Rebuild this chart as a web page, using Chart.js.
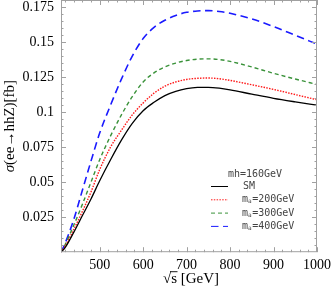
<!DOCTYPE html>
<html>
<head>
<meta charset="utf-8">
<script src="https://cdn.jsdelivr.net/npm/chart.js@4/dist/chart.umd.min.js"></script>
<style>
  html, body { margin: 0; padding: 0; background: #fff; }
  #wrap { width: 333px; height: 300px; }
</style>
</head>
<body>
<div id="wrap"><canvas id="xsChart"></canvas></div>
<script>
// sqrt(s) in GeV, cross sections in fb
const sqrtS = [411, 420, 440, 460, 480, 500, 525, 550, 575, 600, 625, 650, 675, 700, 725, 750, 775, 800, 850, 900, 950, 1000];
const sigmaSM = [0, 0.003, 0.014, 0.026, 0.038, 0.051, 0.066, 0.080, 0.092, 0.101, 0.107, 0.1118, 0.1148, 0.1167, 0.1176, 0.1177, 0.1171, 0.1159, 0.1128, 0.1098, 0.1073, 0.1050];
const sigma200 = [0, 0.004, 0.016, 0.029, 0.043, 0.059, 0.075, 0.087, 0.098, 0.1065, 0.1135, 0.1185, 0.1215, 0.1233, 0.1241, 0.1243, 0.1238, 0.1226, 0.1195, 0.1162, 0.1125, 0.1088];
const sigma300 = [0, 0.005, 0.019, 0.034, 0.050, 0.066, 0.083, 0.098, 0.111, 0.1215, 0.128, 0.1322, 0.1350, 0.1368, 0.1378, 0.1380, 0.1375, 0.1362, 0.1322, 0.1277, 0.1236, 0.1197];
const sigma400 = [0, 0.006, 0.023, 0.044, 0.065, 0.085, 0.105, 0.1235, 0.140, 0.1525, 0.1605, 0.1655, 0.1690, 0.1712, 0.1722, 0.1724, 0.1718, 0.1705, 0.1665, 0.1610, 0.1548, 0.1485];

const xTickValues = [500, 600, 700, 800, 900, 1000];
const yTickValues = [0.025, 0.05, 0.075, 0.1, 0.125, 0.15, 0.175];

const legendTitle = 'mh=160GeV';
const seriesNames = ['SM', '200GeV', '300GeV', '400GeV'];

const toPoints = ys => sqrtS.map((x, i) => ({x: x, y: ys[i]}));

const SERIF = '"Liberation Serif", "DejaVu Serif", serif';
const MONO = '"DejaVu Sans Mono", "Liberation Mono", monospace';
const FRAME = '#a0a0a0';

// inward ticks on all four sides, Mathematica style
const framePlugin = {
    id: 'frame',
    afterDatasetsDraw(chart) {
        const {ctx, chartArea: a, scales} = chart;
        const xs = scales.x, ys = scales.y;
        ctx.save();
        ctx.strokeStyle = FRAME;
        ctx.lineWidth = 1;
        ctx.strokeRect(a.left + 0.5, a.top + 0.5, a.right - a.left - 1, a.bottom - a.top - 1);
        ctx.beginPath();
        for (let v = 420; v <= 1000; v += 20) {
            const px = Math.round(xs.getPixelForValue(v)) + 0.5;
            const len = v % 100 === 0 ? 5 : 2.5;
            ctx.moveTo(px, a.bottom); ctx.lineTo(px, a.bottom - len);
            ctx.moveTo(px, a.top); ctx.lineTo(px, a.top + len);
        }
        for (let k = 1; k <= 36; k++) {
            const v = k * 0.005;
            const py = Math.round(ys.getPixelForValue(v)) + 0.5;
            const len = k % 5 === 0 ? 5 : 2.5;
            ctx.moveTo(a.left, py); ctx.lineTo(a.left + len, py);
            ctx.moveTo(a.right, py); ctx.lineTo(a.right - len, py);
        }
        ctx.stroke();
        ctx.restore();
    },
    afterDraw(chart) {
        const {ctx, chartArea: a} = chart;
        ctx.save();
        ctx.fillStyle = '#000';
        // x title: sqrt(s) [GeV]
        ctx.font = '15px ' + SERIF;
        ctx.textBaseline = 'middle';
        const cx = (a.left + a.right) / 2 + 2;
        const cy = a.bottom + 27;
        const rad = '\u221A', sTxt = 's', rest = ' [GeV]';
        const wr = ctx.measureText(rad).width, ws = ctx.measureText(sTxt).width, wRest = ctx.measureText(rest).width;
        let x0 = cx - (wr + ws + wRest) / 2;
        ctx.textAlign = 'left';
        ctx.fillText(rad, x0, cy);
        ctx.fillText(sTxt, x0 + wr, cy);
        ctx.fillText(rest, x0 + wr + ws, cy);
        ctx.beginPath();
        ctx.lineWidth = 0.9;
        ctx.strokeStyle = '#000';
        ctx.moveTo(x0 + wr - 1, cy - 7.5);
        ctx.lineTo(x0 + wr + ws + 0.5, cy - 7.5);
        ctx.stroke();

        // y title
        ctx.translate(10, (a.top + a.bottom) / 2);
        ctx.rotate(-Math.PI / 2);
        ctx.font = 'italic 15px ' + SERIF;
        const sig = '\u03C3';
        const ws2 = ctx.measureText(sig).width;
        ctx.font = '15px ' + SERIF;
        const body = '(ee\u2192hhZ)[fb]';
        const wb = ctx.measureText(body).width;
        const y0 = -(ws2 + wb) / 2;
        ctx.font = 'italic 15px ' + SERIF;
        ctx.fillText(sig, y0, 0);
        ctx.font = '15px ' + SERIF;
        ctx.fillText(body, y0 + ws2, 0);
        ctx.restore();

        // legend
        ctx.save();
        const lx = a.right - 106, tY = a.top + 174;
        ctx.fillStyle = '#444';
        ctx.font = '10px ' + MONO;
        ctx.textBaseline = 'middle';
        ctx.textAlign = 'center';
        ctx.fillText(legendTitle, lx + 44, tY);
        chart.data.datasets.forEach((ds, i) => {
            const ry = tY + 12.5 + i * 13.3;
            ctx.beginPath();
            ctx.strokeStyle = ds.borderColor;
            ctx.lineWidth = 1;
            ctx.setLineDash(ds.borderDash || []);
            ctx.moveTo(lx, ry); ctx.lineTo(lx + 17, ry);
            ctx.stroke();
            ctx.setLineDash([]);
            ctx.textAlign = 'left';
            ctx.fillStyle = '#444';
            let tx = lx + 31;
            if (i === 0) {
                ctx.font = '10px ' + MONO;
                ctx.fillText(seriesNames[i], tx + 1, ry);
            } else {
                ctx.font = '10px ' + MONO;
                ctx.fillText('m', tx, ry);
                tx += ctx.measureText('m').width;
                ctx.font = '6px ' + MONO;
                ctx.fillText('a', tx, ry + 2);
                tx += ctx.measureText('a').width + 0.5;
                ctx.font = '10px ' + MONO;
                ctx.fillText('=' + seriesNames[i], tx, ry);
            }
        });
        ctx.restore();
    }
};

const ctx = document.getElementById('xsChart');
new Chart(ctx, {
    type: 'line',
    data: {
        datasets: [
            {label: 'SM', data: toPoints(sigmaSM), borderColor: '#000000', borderWidth: 1.3},
            {label: '200', data: toPoints(sigma200), borderColor: '#ff1a1a', borderWidth: 1.4, borderDash: [1.5, 1.3]},
            {label: '300', data: toPoints(sigma300), borderColor: '#3a923a', borderWidth: 1.4, borderDash: [4, 3]},
            {label: '400', data: toPoints(sigma400), borderColor: '#1a1aff', borderWidth: 1.6, borderDash: [7.5, 4.5]}
        ]
    },
    options: {
        responsive: true,
        maintainAspectRatio: false,
        animation: false,
        layout: {padding: {top: 0, right: 16, left: 0, bottom: 21}},
        elements: {
            point: {radius: 0},
            line: {cubicInterpolationMode: 'monotone', fill: false}
        },
        plugins: {
            legend: {display: false},
            tooltip: {enabled: false}
        },
        scales: {
            x: {
                type: 'linear',
                min: 411,
                max: 1000,
                grid: {display: false, drawTicks: false},
                border: {display: false},
                afterBuildTicks: s => { s.ticks = xTickValues.map(v => ({value: v})); },
                afterFit: s => { s.paddingLeft = 0; s.paddingRight = 0; },
                ticks: {
                    padding: 5,
                    color: '#000',
                    maxRotation: 0,
                    autoSkip: false,
                    font: {family: SERIF, size: 14},
                    callback: v => String(v)
                }
            },
            y: {
                min: 0,
                max: 0.18,
                grid: {display: false, drawTicks: false},
                border: {display: false},
                afterBuildTicks: s => { s.ticks = yTickValues.map(v => ({value: v})); },
                afterFit: s => { s.width = 61; s.paddingTop = 0; s.paddingBottom = 0; },
                ticks: {
                    padding: 7,
                    color: '#000',
                    autoSkip: false,
                    font: {family: SERIF, size: 14},
                    callback: v => String(+v.toFixed(3))
                }
            }
        }
    },
    plugins: [framePlugin]
});
</script>
</body>
</html>
